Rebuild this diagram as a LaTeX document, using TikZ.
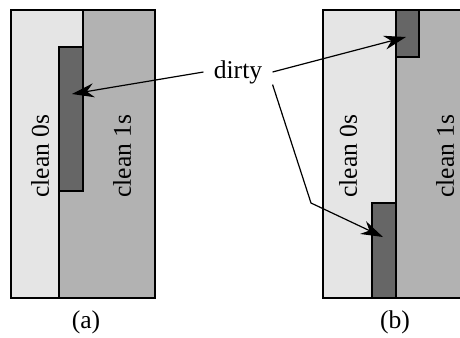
\documentclass[tikz,border=0pt]{standalone}
\usepackage{fontspec}
\setmainfont{Liberation Serif}
\usetikzlibrary{arrows.meta}
\definecolor{zerogray}{gray}{0.9}
\definecolor{onegray}{gray}{0.7}
\definecolor{dirtygray}{gray}{0.4}

\begin{document}
\begin{tikzpicture}[x=0.5pt,y=-0.5pt,
    font=\fontsize{12.8}{15}\selectfont,
    edge/.style={line width=1.1pt,draw=black},
    pointer/.style={line width=0.6pt,-{Stealth[length=11pt,width=7pt,inset=3.5pt]}},
    sidelabel/.style={rotate=90}]
        \useasboundingbox (0,0) rectangle (460,337);
        % panel (a)
        \fill[zerogray] (11,10) rectangle (155,298);
        \fill[onegray] (83,10) -- (155,10) -- (155,298) -- (59,298) -- (59,47) -- (83,47) -- cycle;
        \draw[edge,fill=dirtygray] (59,47) rectangle (83,191);
        \draw[edge] (83,10) -- (83,47) (59,191) -- (59,298);
        \draw[edge] (11,10) rectangle (155,298);
        \node[sidelabel] (zeroa) at (40,156) {clean 0s};
        \node[sidelabel] (onea) at (122,156) {clean 1s};
        \node (capa) at (86,322) {(a)};
        % panel (b)
        \fill[zerogray] (323,10) rectangle (470,298);
        \fill[onegray] (396,10) rectangle (470,298);
        \draw[edge,fill=dirtygray] (396,10) rectangle (419,57);
        \draw[edge,fill=dirtygray] (372,203) rectangle (396,298);
        \draw[edge] (396,57) -- (396,203);
        \draw[edge] (323,10) rectangle (470,298);
        \node[sidelabel] (zerob) at (348,156) {clean 0s};
        \node[sidelabel] (oneb) at (445,156) {clean 1s};
        \node (capb) at (395,322) {(b)};
        % pointers
        \coordinate (tipa) at (72,94);
        \coordinate (tipb) at (406,37);
        \coordinate (bendb) at (311,203);
        \coordinate (tipc) at (383,237);
        \node[inner sep=5pt] (dirty) at (238,72) {dirty};
        \draw[pointer] (dirty.west) -- (tipa);
        \draw[pointer] (dirty.east) -- (tipb);
        \draw[pointer] (dirty.-20) -- (bendb) -- (tipc);
\end{tikzpicture}
\end{document}
